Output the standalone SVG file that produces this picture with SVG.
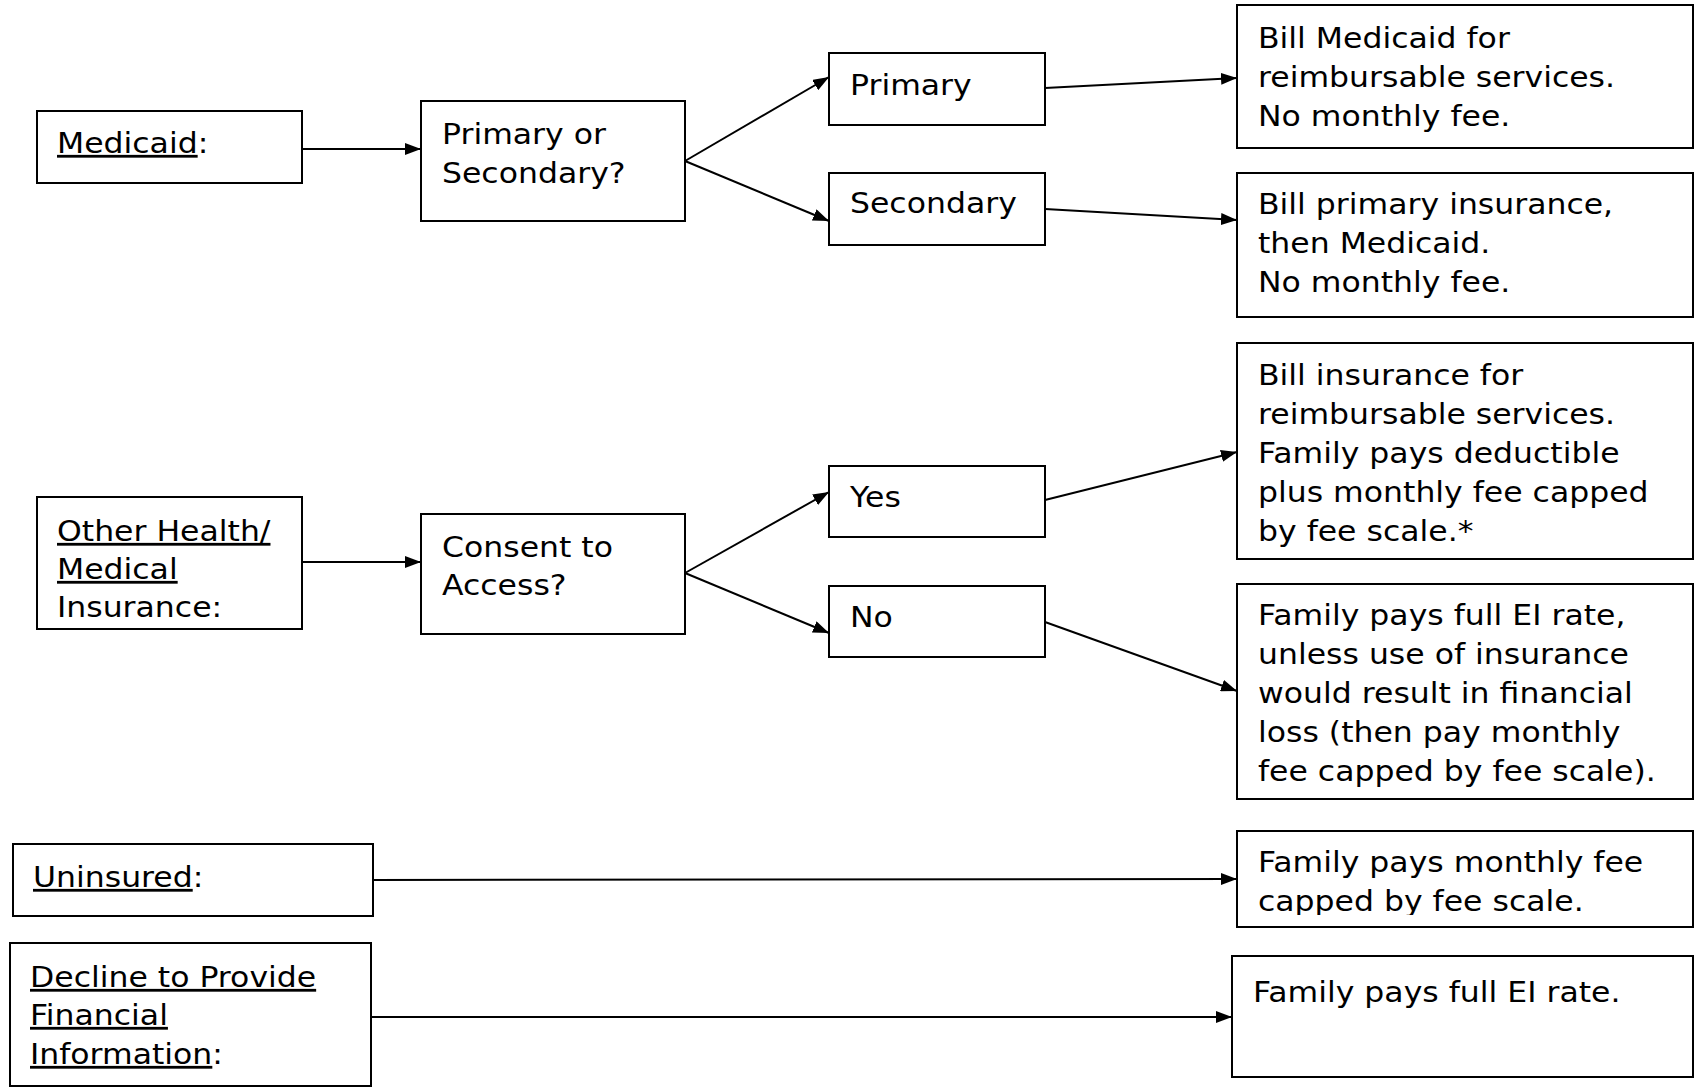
<svg xmlns="http://www.w3.org/2000/svg" width="1695" height="1087" viewBox="0 0 1695 1087">
<style>
.box{fill:#fff;stroke:#000;stroke-width:2}
.t{font-family:"DejaVu Sans","Verdana",sans-serif;font-size:28px;fill:#000}
.u{text-decoration:underline}
.c{fill:none;stroke:#000;stroke-width:2}
</style>
<defs>
<marker id="ah" markerUnits="userSpaceOnUse" markerWidth="16" markerHeight="12" refX="16" refY="6" orient="auto">
<path d="M0,0 L16,6 L0,12 z" fill="#000"/>
</marker>
<clipPath id="clipFee" clipPathUnits="userSpaceOnUse"><rect x="1237" y="831" width="456" height="84"/></clipPath>
</defs>
<rect width="1695" height="1087" fill="#fff"/>

<g id="connectors">
<line class="c" x1="302" y1="149" x2="421" y2="149" marker-end="url(#ah)"/>
<line class="c" x1="685" y1="161" x2="829" y2="77" marker-end="url(#ah)"/>
<line class="c" x1="685" y1="161" x2="829" y2="221" marker-end="url(#ah)"/>
<line class="c" x1="1045" y1="88" x2="1237" y2="78" marker-end="url(#ah)"/>
<line class="c" x1="1045" y1="209" x2="1237" y2="220" marker-end="url(#ah)"/>
<line class="c" x1="302" y1="562" x2="421" y2="562" marker-end="url(#ah)"/>
<line class="c" x1="685" y1="573" x2="829" y2="492" marker-end="url(#ah)"/>
<line class="c" x1="685" y1="573" x2="829" y2="633" marker-end="url(#ah)"/>
<line class="c" x1="1045" y1="500" x2="1237" y2="452" marker-end="url(#ah)"/>
<line class="c" x1="1045" y1="622" x2="1237" y2="691" marker-end="url(#ah)"/>
<line class="c" x1="373" y1="880" x2="1237" y2="879" marker-end="url(#ah)"/>
<line class="c" x1="371" y1="1017" x2="1232" y2="1017" marker-end="url(#ah)"/>
</g>

<g id="medicaid">
<rect class="box" x="37" y="111" width="265" height="72"/>
<text class="t" transform="translate(57 0) scale(1.125 1)"><tspan x="0" y="153" class="u">Medicaid</tspan><tspan>:</tspan></text>
</g>

<g id="primary-or-secondary">
<rect class="box" x="421" y="101" width="264" height="120"/>
<text class="t" transform="translate(442 0) scale(1.125 1)"><tspan x="0" y="144">Primary or</tspan><tspan x="0" y="183">Secondary?</tspan></text>
</g>

<g id="primary">
<rect class="box" x="829" y="53" width="216" height="72"/>
<text class="t" transform="translate(850 0) scale(1.125 1)"><tspan x="0" y="95">Primary</tspan></text>
</g>

<g id="secondary">
<rect class="box" x="829" y="173" width="216" height="72"/>
<text class="t" transform="translate(850 0) scale(1.125 1)"><tspan x="0" y="213">Secondary</tspan></text>
</g>

<g id="bill-medicaid">
<rect class="box" x="1237" y="5" width="456" height="143"/>
<text class="t" transform="translate(1258 0) scale(1.125 1)"><tspan x="0" y="48">Bill Medicaid for</tspan><tspan x="0" y="87">reimbursable services.</tspan><tspan x="0" y="126">No monthly fee.</tspan></text>
</g>

<g id="bill-primary">
<rect class="box" x="1237" y="173" width="456" height="144"/>
<text class="t" transform="translate(1258 0) scale(1.125 1)"><tspan x="0" y="214">Bill primary insurance,</tspan><tspan x="0" y="253">then Medicaid.</tspan><tspan x="0" y="292">No monthly fee.</tspan></text>
</g>

<g id="other-health">
<rect class="box" x="37" y="497" width="265" height="132"/>
<text class="t" transform="translate(57 0) scale(1.125 1)"><tspan x="0" y="541" class="u">Other Health/</tspan><tspan x="0" y="579" class="u">Medical</tspan><tspan x="0" y="617">Insurance:</tspan></text>
</g>

<g id="consent">
<rect class="box" x="421" y="514" width="264" height="120"/>
<text class="t" transform="translate(442 0) scale(1.125 1)"><tspan x="0" y="557">Consent to</tspan><tspan x="0" y="595">Access?</tspan></text>
</g>

<g id="yes">
<rect class="box" x="829" y="466" width="216" height="71"/>
<text class="t" transform="translate(850 0) scale(1.125 1)"><tspan x="0" y="507">Yes</tspan></text>
</g>

<g id="no">
<rect class="box" x="829" y="586" width="216" height="71"/>
<text class="t" transform="translate(850 0) scale(1.125 1)"><tspan x="0" y="627">No</tspan></text>
</g>

<g id="bill-insurance">
<rect class="box" x="1237" y="343" width="456" height="216"/>
<text class="t" transform="translate(1258 0) scale(1.125 1)"><tspan x="0" y="385">Bill insurance for</tspan><tspan x="0" y="424">reimbursable services.</tspan><tspan x="0" y="463">Family pays deductible</tspan><tspan x="0" y="502">plus monthly fee capped</tspan><tspan x="0" y="541">by fee scale.*</tspan></text>
</g>

<g id="full-rate-unless">
<rect class="box" x="1237" y="584" width="456" height="215"/>
<text class="t" transform="translate(1258 0) scale(1.125 1)"><tspan x="0" y="625">Family pays full EI rate,</tspan><tspan x="0" y="664">unless use of insurance</tspan><tspan x="0" y="703">would result in financial</tspan><tspan x="0" y="742">loss (then pay monthly</tspan><tspan x="0" y="781">fee capped by fee scale).</tspan></text>
</g>

<g id="uninsured">
<rect class="box" x="13" y="844" width="360" height="72"/>
<text class="t" transform="translate(33 0) scale(1.125 1)"><tspan x="0" y="887" class="u">Uninsured</tspan><tspan>:</tspan></text>
</g>

<g id="monthly-fee">
<rect class="box" x="1237" y="831" width="456" height="96"/>
<g clip-path="url(#clipFee)">
<text class="t" transform="translate(1258 0) scale(1.125 1)"><tspan x="0" y="872">Family pays monthly fee</tspan><tspan x="0" y="911">capped by fee scale.</tspan></text>
</g>
</g>

<g id="decline">
<rect class="box" x="10" y="943" width="361" height="143"/>
<text class="t" transform="translate(30 0) scale(1.125 1)"><tspan x="0" y="987" class="u">Decline to Provide</tspan><tspan x="0" y="1025" class="u">Financial</tspan><tspan x="0" y="1064" class="u">Information</tspan><tspan>:</tspan></text>
</g>

<g id="full-rate">
<rect class="box" x="1232" y="956" width="461" height="121"/>
<text class="t" transform="translate(1253 0) scale(1.125 1)"><tspan x="0" y="1002">Family pays full EI rate.</tspan></text>
</g>
</svg>
